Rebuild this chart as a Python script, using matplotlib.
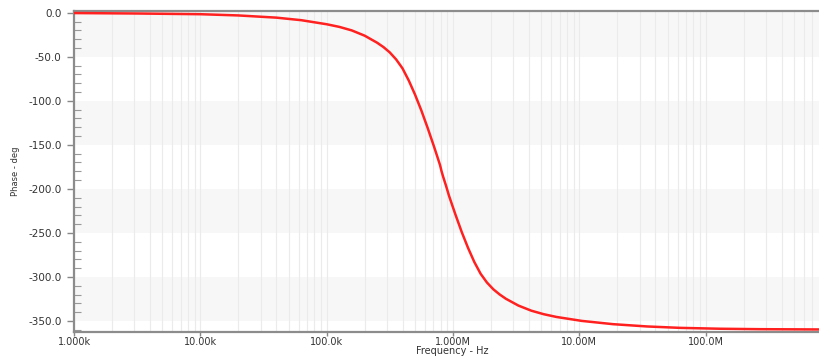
import numpy as np
import matplotlib.pyplot as plt
from matplotlib.ticker import LogLocator, NullFormatter, MultipleLocator

plt.rcParams['font.family'] = ['DejaVu Sans']

# frequency (Hz) and phase (deg)
freq_hz = [1.0e3, 3.16e3, 10e3, 20e3, 40e3, 63e3, 100e3, 126e3, 158e3,
           200e3, 251e3, 282e3, 316e3, 355e3, 398e3, 447e3, 501e3, 562e3,
           631e3, 708e3, 750e3, 790e3, 812e3, 835e3, 879e3, 931e3, 1.045e6,
           1.173e6, 1.316e6, 1.475e6, 1.657e6, 1.857e6, 2.087e6, 2.338e6,
           2.627e6, 3.297e6, 4.173e6, 5.233e6, 6.593e6, 10.47e6, 18.5e6,
           34.4e6, 62.8e6, 130e6, 270e6, 792e6]
phase_deg = [-0.3, -0.8, -1.6, -3.0, -5.5, -8.4, -13.0, -16.0, -20.0,
             -26.0, -34.0, -39.0, -45.0, -53.0, -63.0, -77.0, -93.0, -111.0,
             -131.0, -152.0, -163.0, -173.0, -180.0, -186.0, -196.0, -208.0, -229.0,
             -249.0, -267.0, -283.0, -296.5, -306.3, -314.0, -319.8,
             -324.8, -332.5, -338.3, -342.3, -345.4, -349.9, -353.6,
             -356.2, -357.8, -358.8, -359.3, -359.6]

x_ticks = [1e3, 1e4, 1e5, 1e6, 1e7, 1e8]
x_labels = ["1.000k", "10.00k", "100.0k", "1.000M", "10.00M", "100.0M"]
y_ticks = [0, -50, -100, -150, -200, -250, -300, -350]
y_labels = ["0.0", "-50.0", "-100.0", "-150.0", "-200.0", "-250.0", "-300.0", "-350.0"]

fig = plt.figure(figsize=(8.19, 3.56), dpi=100)
ax = fig.add_axes([0.0904, 0.0674, 0.9096, 0.9016])

ax.set_xscale("log")
ax.set_xlim(1e3, 7.9e8)
ax.set_ylim(-362.5, 2)

# alternating horizontal bands
for top in [2, -100, -200, -300]:
    bot = -50 if top == 2 else top - 50
    ax.axhspan(bot, top, color="#f7f7f7", lw=0, zorder=0)

# vertical log grid
ax.xaxis.set_minor_locator(LogLocator(base=10, subs=np.arange(2, 10)))
ax.xaxis.set_minor_formatter(NullFormatter())
ax.grid(True, which="both", axis="x", color="#ebebeb", lw=0.8, zorder=1)

ax.plot(freq_hz, phase_deg, color="#ff2020", lw=1.8, zorder=3,
        solid_joinstyle="round")

ax.set_xticks(x_ticks)
ax.set_xticklabels(x_labels)
ax.set_yticks(y_ticks)
ax.set_yticklabels(y_labels)
ax.yaxis.set_minor_locator(MultipleLocator(10))

ax.tick_params(axis="y", which="major", direction="out", length=5, width=1,
               color="#888888", labelsize=7.5, labelcolor="#333333", pad=4)
ax.tick_params(axis="y", which="minor", direction="in", length=5, width=0.8,
               color="#999999")
ax.tick_params(axis="x", which="major", direction="out", length=3, width=1,
               color="#888888", labelsize=7, labelcolor="#333333", pad=0.5)
ax.tick_params(axis="x", which="minor", length=0)

for side in ["left", "bottom", "top"]:
    ax.spines[side].set_color("#8c8c8c")
    ax.spines[side].set_linewidth(1.6)
ax.spines["right"].set_visible(False)

fig.text(452 / 819, 1 - 351 / 356, "Frequency - Hz", fontsize=7,
         color="#333333", ha="center", va="center")
ax.set_ylabel("Phase - deg", fontsize=6, color="#333333")
ax.yaxis.set_label_coords(-0.072, 0.5)

fig.savefig("out.png", dpi=100)
